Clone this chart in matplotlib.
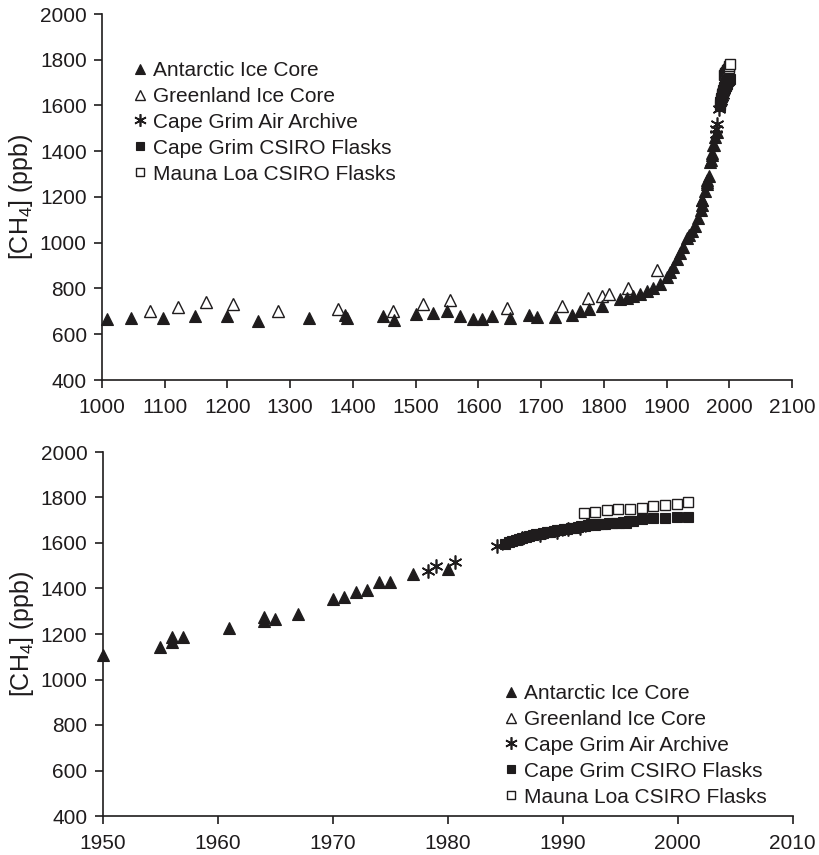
import matplotlib
matplotlib.use("Agg")
import matplotlib.pyplot as plt
import numpy as np

plt.rcParams['font.family'] = ['Liberation Sans', 'DejaVu Sans']
plt.rcParams['mathtext.fontset'] = 'custom'
plt.rcParams['mathtext.rm'] = 'Liberation Sans'
plt.rcParams['mathtext.it'] = 'Liberation Sans:italic'

# Antarctic ice core (filled triangles)
antarctic_year = [1008, 1047, 1097, 1149, 1199, 1249, 1330, 1388, 1391, 1448, 1466,
                  1500, 1528, 1550, 1571, 1592, 1606, 1621, 1650, 1681, 1694, 1722,
                  1749, 1762, 1777, 1797, 1826, 1837, 1847, 1858, 1869, 1879, 1890,
                  1900, 1906, 1911, 1917, 1921, 1926, 1932, 1936, 1940, 1945,
                  1950, 1955, 1956, 1956, 1957, 1961, 1964, 1964, 1965, 1967, 1970,
                  1971, 1972, 1973, 1974, 1975, 1977, 1980]
antarctic_ch4 = [667, 673, 670, 681, 681, 658, 673, 682, 670, 681, 663,
                 688, 693, 703, 681, 666, 666, 681, 670, 685, 675, 675,
                 685, 700, 710, 723, 752, 760, 767, 775, 790, 804, 819,
                 849, 872, 895, 931, 955, 983, 1021, 1035, 1051, 1075,
                 1108, 1145, 1185, 1166, 1185, 1225, 1275, 1255, 1266, 1290, 1355,
                 1362, 1385, 1392, 1428, 1428, 1462, 1484]

# Greenland ice core (open triangles)
greenland_year = [1077, 1121, 1165, 1209, 1280, 1377, 1464, 1511, 1555, 1646,
                  1733, 1775, 1797, 1808, 1839, 1885]
greenland_ch4 = [700, 718, 740, 733, 700, 711, 700, 733, 748, 715,
                 723, 760, 767, 775, 804, 879]

# Cape Grim air archive (asterisks)
archive_year = [1978.3, 1979.0, 1980.6, 1984.3, 1986.5, 1988.0, 1989.5, 1990.5, 1991.5]
archive_ch4 = [1475, 1499, 1518, 1586, 1620, 1636, 1648, 1660, 1668]

# Cape Grim CSIRO flasks (filled squares)
capegrim_year = [1985.0, 1985.3, 1985.6, 1985.9, 1986.2, 1986.5, 1986.8, 1987.1, 1987.4,
                 1987.7, 1988.0, 1988.3, 1988.6, 1988.9, 1989.2, 1989.5, 1989.8, 1990.1,
                 1990.4, 1990.7, 1991.0, 1991.3, 1991.6, 1991.9, 1992.2, 1992.5, 1992.8,
                 1993.1, 1993.4, 1993.7, 1994.0, 1994.3, 1994.6, 1994.9, 1995.2, 1995.5,
                 1995.8, 1996.1, 1996.86, 1997.87, 1998.89, 1999.9, 2000.9]
capegrim_ch4 = [1597, 1605, 1608, 1615, 1618, 1622, 1628, 1630, 1634,
                1640, 1638, 1645, 1648, 1650, 1651, 1655, 1658, 1660,
                1663, 1667, 1668, 1672, 1676, 1675, 1680, 1682, 1680,
                1683, 1685, 1684, 1688, 1686, 1690, 1689, 1692, 1690,
                1695, 1697, 1706, 1709, 1712, 1713, 1715]

# Mauna Loa CSIRO flasks (open squares)
maunaloa_year = [1991.85, 1992.81, 1993.82, 1994.83, 1995.85, 1996.86, 1997.87,
                 1998.89, 1999.9, 2000.9]
maunaloa_ch4 = [1732, 1737, 1744, 1748, 1751, 1756, 1761, 1766, 1773, 1780]

labels = ['Antarctic Ice Core', 'Greenland Ice Core', 'Cape Grim Air Archive',
          'Cape Grim CSIRO Flasks', 'Mauna Loa CSIRO Flasks']

ink = '#1f1c1d'
W, H = 819, 855
fig = plt.figure(figsize=(W / 100, H / 100), dpi=100)
ax1 = fig.add_axes([102 / W, 1 - 380 / H, 690 / W, 366 / H])
ax2 = fig.add_axes([102.7 / W, 1 - 816 / H, 690 / W, 364 / H])

series = [
    (antarctic_year, antarctic_ch4, dict(marker='^', ms=8, mfc=ink, mec=ink, mew=0.8, zorder=2.2)),
    (greenland_year, greenland_ch4, dict(marker='^', ms=8, mfc='white', mec=ink, mew=1.0, zorder=2.1)),
    (archive_year, archive_ch4, dict(marker=(6, 2, 0), ms=10, mfc=ink, mec=ink, mew=1.2, zorder=2.3)),
    (capegrim_year, capegrim_ch4, dict(marker='s', ms=6.5, mfc=ink, mec=ink, mew=0.8, zorder=2.4)),
    (maunaloa_year, maunaloa_ch4, dict(marker='s', ms=6.5, mfc='white', mec=ink, mew=1.0, zorder=2.0)),
]


def draw(ax, xmin, xmax, xstep, legend_anchor):
    handles = []
    for (x, y, style), lab in zip(series, labels):
        x = np.asarray(x, dtype=float)
        y = np.asarray(y, dtype=float)
        keep = (x >= xmin) & (x <= xmax)
        h, = ax.plot(x[keep], y[keep], linestyle='none', clip_on=False, label=lab, **style)
        handles.append(h)
    ax.set_xlim(xmin, xmax)
    ax.set_ylim(400, 2000)
    ax.set_xticks(np.arange(xmin, xmax + 1, xstep))
    ax.set_yticks(np.arange(400, 2001, 200))
    for s in ['top', 'right']:
        ax.spines[s].set_visible(False)
    for s in ['left', 'bottom']:
        ax.spines[s].set_linewidth(1.2)
        ax.spines[s].set_color(ink)
    ax.tick_params(direction='out', length=6, width=1.2, color=ink,
                   labelsize=15, labelcolor=ink)
    ax.tick_params(axis='x', pad=7)
    ax.tick_params(axis='y', pad=5)
    ax.set_ylabel(r'[CH$_4$] (ppb)', fontsize=18, color=ink)
    ax.yaxis.set_label_coords(-0.097, 0.5)
    ax.legend(handles=handles, loc='upper left', bbox_to_anchor=legend_anchor,
              bbox_transform=fig.transFigure, frameon=False, fontsize=15,
              borderpad=0, borderaxespad=0, handlelength=0.6, handletextpad=0.3,
              labelspacing=0.33, markerscale=0.9, numpoints=1, labelcolor=ink)


draw(ax1, 1000, 2100, 100, (134 / W, 1 - 61 / H))
draw(ax2, 1950, 2010, 10, (505 / W, 1 - 684 / H))

fig.savefig('out.png', dpi=100)
